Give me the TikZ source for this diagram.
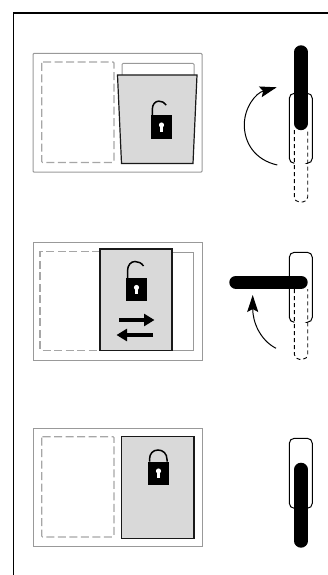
\documentclass[tikz,border=0pt]{standalone}
\usepackage{xcolor}
\usetikzlibrary{arrows.meta}
\definecolor{framegray}{gray}{0.6}
\definecolor{dashgray}{gray}{0.65}
\definecolor{leafgray}{gray}{0.85}
\tikzset{
  casing/.style={draw=framegray, line width=1pt},
  ghostleaf/.style={draw=dashgray, line width=1.1pt, dash pattern=on 8pt off 3.5pt},
  leaf/.style={draw=black!90, fill=leafgray, line width=1.2pt},
  handlebar/.style={line width=13.4pt, line cap=round, black},
  ghostbar/.style={black, line width=0.9pt, dash pattern=on 4pt off 3pt, rounded corners=5pt},
  turn/.style={black, line width=1pt, -{Stealth[length=17pt,width=11pt,inset=3pt]}},
  slide/.style={black, line width=4pt, -{Triangle[length=10.5pt,width=12pt]}},
  lockbody/.pic={
    \fill[black] (0,0) rectangle (21,23);
    \fill[white] (10.5,9.5) circle (2.6);
    \fill[white] (9.4,10) rectangle (11.6,16);
  },
  openlock/.pic={
    \draw[black, line width=1.5pt] (1.5,0) -- (1.5,-7) .. controls (1.5,-13) and (5,-16.5) .. (9,-16.5)
      .. controls (12.5,-16.5) and (15.5,-15) .. (17.5,-12);
    \pic at (0,0) {lockbody};
  },
  closedlock/.pic={
    \draw[black, line width=1.5pt] (1.5,0) -- (1.5,-2) .. controls (1.5,-8) and (5,-11.5) .. (10,-11.5)
      .. controls (15,-11.5) and (19,-8) .. (19,-2) -- (19,0);
    \pic at (0,0) {lockbody};
  },
  handlecase/.pic={
    \draw[black, line width=1pt, rounded corners=5pt] (5,70) -- (0,70) -- (0,0) -- (23,0) -- (23,70) -- (18.4,70);
  },
}
\begin{document}
\begin{tikzpicture}[x=1pt,y=-1pt]
  \useasboundingbox (0,0) rectangle (328,575);
  \draw[black, line width=1.4pt] (13.7,575) -- (13.7,13) -- (328,13);

  % top row
  \draw[casing, rounded corners=0.8pt] (33,53.5) rectangle (202,172);
  \draw[ghostleaf, rounded corners=1pt] (41.7,62) rectangle (114,162.5);
  \draw[casing, rounded corners=1pt] (122,75) -- (122,63.5) -- (194,63.5) -- (194,75);
  \draw[leaf] (117.5,75) -- (197,75) -- (193,163.5) -- (121.5,163.5) -- cycle;
  \pic[scale=0.87] at (151,115.5) {openlock};
  \draw[ghostbar] (294.3,130) -- (294.3,202) -- (307.7,202) -- (307.7,130);
  \pic at (289.3,93.3) {handlecase};
  \draw[handlebar] (301,52) -- (301,123.5);
  \draw[turn] (277.3,165) .. controls (255,160) and (244.3,143) .. (244.3,125)
    .. controls (244.3,107) and (256,93) .. (276.7,87.3);

  % middle row
  \draw[casing] (33,242) rectangle (202,360.7);
  \draw[ghostleaf] (100,251.8) -- (40,251.8) -- (40,350.3) -- (100,350.3);
  \draw[casing] (172,252) -- (193.7,252) -- (193.7,350.3) -- (172,350.3);
  \draw[leaf] (100,249) rectangle (172,350.5);
  \pic at (126,278) {openlock};
  \draw[slide] (119,320) -- (154.5,320);
  \draw[slide] (153,335) -- (116.5,335);
  \draw[ghostbar] (294.3,289) -- (294.3,359.3) -- (307.7,359.3) -- (307.7,289);
  \pic at (289.3,252.3) {handlecase};
  \draw[handlebar] (236,282.2) -- (301,282.2);
  \draw[turn] (276,348.3) .. controls (260,340) and (252.7,322) .. (252.7,295);

  % bottom row
  \draw[casing] (33,428.3) rectangle (202,546.7);
  \draw[ghostleaf, rounded corners=1pt] (41.7,436.7) rectangle (114,537);
  \draw[leaf] (121.7,436.7) rectangle (194,538.7);
  \pic at (148,461.5) {closedlock};
  \pic at (289.3,438.3) {handlecase};
  \draw[handlebar] (301,469.4) -- (301,541);
\end{tikzpicture}
\end{document}
